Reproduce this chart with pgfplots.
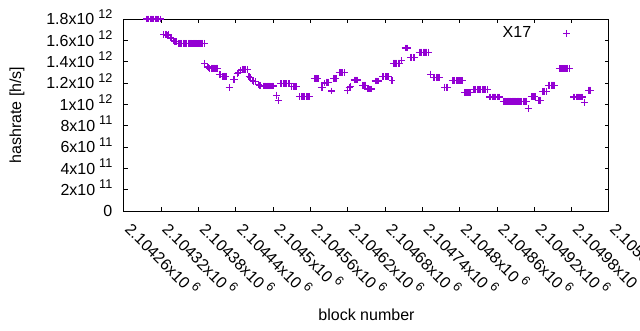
\documentclass[border=0pt]{standalone}
\usepackage{pgfplots}
\pgfplotsset{compat=1.18}
\usepackage{pgfplotstable}
\usepackage{fontspec}
\setmainfont{Liberation Sans}
\definecolor{gpviolet}{RGB}{148,0,211}
\newcommand{\sci}[2]{#1x10\hspace{3pt}\raisebox{5pt}{\fontsize{9.5}{10}\selectfont #2}}

\begin{document}
\pgfplotstableread[row sep=\\]{
block hr \\
2104296 1.800e12 \\ 2104298 1.800e12 \\ 2104300 1.800e12 \\ 2104302 1.800e12 \\ 2104304 1.800e12 \\ 2104306 1.800e12 \\
2104308 1.800e12 \\ 2104310 1.800e12 \\ 2104312 1.800e12 \\ 2104314 1.800e12 \\ 2104316 1.800e12 \\ 2104318 1.800e12 \\
2104324 1.655e12 \\ 2104326 1.653e12 \\ 2104328 1.652e12 \\ 2104330 1.650e12 \\ 2104332 1.652e12 \\
2104335 1.622e12 \\ 2104337 1.618e12 \\ 2104340 1.597e12 \\ 2104342 1.590e12 \\ 2104344 1.585e12 \\
2104347 1.572e12 \\ 2104349 1.572e12 \\ 2104351 1.572e12 \\ 2104353 1.572e12 \\ 2104355 1.572e12 \\ 2104357 1.572e12 \\
2104359 1.572e12 \\ 2104361 1.572e12 \\ 2104363 1.572e12 \\ 2104365 1.572e12 \\ 2104367 1.572e12 \\ 2104369 1.572e12 \\
2104371 1.572e12 \\ 2104373 1.572e12 \\ 2104375 1.572e12 \\ 2104377 1.572e12 \\ 2104379 1.572e12 \\ 2104381 1.572e12 \\
2104383 1.572e12 \\ 2104385 1.572e12 \\ 2104387 1.572e12 \\ 2104389 1.572e12 \\
2104390 1.385e12 \\
2104394 1.350e12 \\ 2104396 1.345e12 \\ 2104398 1.340e12 \\ 2104400 1.340e12 \\ 2104402 1.340e12 \\ 2104404 1.340e12 \\
2104406 1.340e12 \\ 2104408 1.340e12 \\ 2104410 1.340e12 \\ 2104411 1.335e12 \\
2104413 1.283e12 \\ 2104415 1.278e12 \\
2104418 1.262e12 \\ 2104420 1.262e12 \\ 2104422 1.262e12 \\ 2104424 1.262e12 \\
2104429 1.156e12 \\
2104436 1.237e12 \\ 2104438 1.237e12 \\ 2104442 1.290e12 \\ 2104444 1.300e12 \\
2104448 1.320e12 \\ 2104450 1.328e12 \\ 2104452 1.328e12 \\ 2104454 1.328e12 \\ 2104456 1.328e12 \\ 2104458 1.325e12 \\
2104461 1.260e12 \\ 2104463 1.252e12 \\
2104467 1.220e12 \\ 2104469 1.214e12 \\ 2104471 1.210e12 \\
2104476 1.185e12 \\ 2104478 1.180e12 \\ 2104480 1.178e12 \\
2104484 1.172e12 \\ 2104486 1.172e12 \\ 2104488 1.172e12 \\ 2104490 1.172e12 \\ 2104492 1.172e12 \\ 2104494 1.172e12 \\
2104496 1.172e12 \\ 2104498 1.172e12 \\ 2104500 1.172e12 \\
2104506 1.087e12 \\ 2104508 1.040e12 \\
2104512 1.195e12 \\ 2104514 1.195e12 \\ 2104516 1.195e12 \\ 2104518 1.195e12 \\ 2104520 1.195e12 \\ 2104522 1.195e12 \\
2104524 1.195e12 \\ 2104526 1.195e12 \\
2104530 1.170e12 \\ 2104532 1.167e12 \\ 2104534 1.167e12 \\ 2104536 1.165e12 \\ 2104538 1.165e12 \\
2104543 1.073e12 \\ 2104545 1.073e12 \\ 2104547 1.073e12 \\ 2104549 1.073e12 \\ 2104551 1.073e12 \\ 2104553 1.073e12 \\
2104555 1.073e12 \\ 2104557 1.073e12 \\ 2104559 1.073e12 \\
2104566 1.242e12 \\ 2104568 1.242e12 \\ 2104570 1.242e12 \\ 2104572 1.242e12 \\
2104577 1.160e12 \\ 2104579 1.155e12 \\
2104583 1.200e12 \\ 2104585 1.209e12 \\ 2104587 1.209e12 \\ 2104589 1.209e12 \\
2104594 1.125e12 \\
2104597 1.240e12 \\ 2104599 1.242e12 \\ 2104601 1.242e12 \\
2104606 1.298e12 \\ 2104608 1.298e12 \\ 2104610 1.298e12 \\ 2104612 1.298e12 \\ 2104614 1.298e12 \\
2104620 1.130e12 \\ 2104622 1.162e12 \\ 2104624 1.165e12 \\
2104630 1.228e12 \\ 2104632 1.228e12 \\ 2104634 1.228e12 \\ 2104636 1.228e12 \\
2104644 1.181e12 \\ 2104646 1.181e12 \\ 2104648 1.181e12 \\
2104652 1.144e12 \\ 2104654 1.144e12 \\ 2104656 1.144e12 \\ 2104658 1.144e12 \\
2104664 1.219e12 \\ 2104666 1.219e12 \\ 2104668 1.219e12 \\ 2104670 1.219e12 \\
2104676 1.261e12 \\ 2104678 1.261e12 \\ 2104680 1.261e12 \\ 2104682 1.261e12 \\ 2104684 1.261e12 \\ 2104686 1.261e12 \\
2104691 1.220e12 \\
2104693 1.387e12 \\ 2104695 1.387e12 \\ 2104697 1.387e12 \\ 2104699 1.387e12 \\ 2104701 1.387e12 \\ 2104703 1.387e12 \\
2104707 1.410e12 \\
2104712 1.528e12 \\ 2104714 1.528e12 \\ 2104716 1.528e12 \\
2104721 1.440e12 \\ 2104723 1.440e12 \\ 2104725 1.440e12 \\ 2104727 1.440e12 \\
2104735 1.490e12 \\ 2104737 1.490e12 \\ 2104739 1.490e12 \\ 2104741 1.490e12 \\ 2104743 1.490e12 \\ 2104745 1.490e12 \\
2104747 1.490e12 \\ 2104749 1.490e12 \\
2104753 1.284e12 \\
2104758 1.252e12 \\ 2104760 1.252e12 \\ 2104762 1.252e12 \\ 2104764 1.252e12 \\ 2104766 1.252e12 \\ 2104768 1.252e12 \\
2104776 1.162e12 \\ 2104778 1.162e12 \\ 2104780 1.162e12 \\
2104788 1.223e12 \\ 2104790 1.223e12 \\ 2104792 1.223e12 \\ 2104794 1.223e12 \\ 2104796 1.223e12 \\ 2104798 1.223e12 \\
2104800 1.223e12 \\ 2104802 1.223e12 \\ 2104804 1.223e12 \\
2104808 1.111e12 \\ 2104810 1.111e12 \\ 2104812 1.111e12 \\ 2104814 1.111e12 \\ 2104816 1.111e12 \\ 2104818 1.111e12 \\
2104822 1.139e12 \\ 2104824 1.139e12 \\ 2104826 1.139e12 \\ 2104828 1.139e12 \\ 2104830 1.139e12 \\ 2104832 1.139e12 \\
2104834 1.139e12 \\ 2104836 1.139e12 \\ 2104838 1.139e12 \\ 2104840 1.139e12 \\ 2104842 1.139e12 \\ 2104844 1.139e12 \\
2104848 1.069e12 \\ 2104850 1.069e12 \\ 2104852 1.069e12 \\ 2104854 1.069e12 \\ 2104856 1.069e12 \\ 2104858 1.069e12 \\
2104860 1.069e12 \\ 2104862 1.069e12 \\ 2104864 1.069e12 \\
2104870 1.031e12 \\ 2104872 1.031e12 \\ 2104874 1.031e12 \\ 2104876 1.031e12 \\ 2104878 1.031e12 \\ 2104880 1.031e12 \\
2104882 1.031e12 \\ 2104884 1.031e12 \\ 2104886 1.031e12 \\ 2104888 1.031e12 \\ 2104890 1.031e12 \\ 2104892 1.031e12 \\
2104894 1.031e12 \\ 2104896 1.027e12 \\ 2104898 1.027e12 \\ 2104900 1.027e12 \\ 2104902 1.027e12 \\ 2104904 1.027e12 \\
2104906 1.027e12 \\ 2104908 1.027e12 \\
2104910 0.963e12 \\
2104915 1.073e12 \\ 2104917 1.073e12 \\ 2104919 1.073e12 \\ 2104921 1.073e12 \\
2104926 1.040e12 \\ 2104928 1.040e12 \\ 2104930 1.040e12 \\
2104933 1.120e12 \\ 2104935 1.120e12 \\ 2104937 1.120e12 \\ 2104939 1.120e12 \\
2104943 1.181e12 \\ 2104945 1.181e12 \\ 2104947 1.181e12 \\ 2104949 1.181e12 \\ 2104951 1.181e12 \\ 2104953 1.181e12 \\
2104960 1.336e12 \\ 2104962 1.336e12 \\ 2104964 1.336e12 \\ 2104966 1.336e12 \\ 2104968 1.336e12 \\ 2104970 1.336e12 \\
2104972 1.336e12 \\ 2104974 1.336e12 \\ 2104976 1.336e12 \\
2104983 1.069e12 \\ 2104985 1.069e12 \\ 2104987 1.069e12 \\ 2104989 1.069e12 \\ 2104991 1.069e12 \\ 2104993 1.069e12 \\
2104995 1.069e12 \\ 2104997 1.069e12 \\
2105001 1.017e12 \\
2105007 1.134e12 \\ 2105009 1.134e12 \\ 2105011 1.134e12 \\
}\datatable
\begin{tikzpicture}
\useasboundingbox (-93pt,-89.25pt) rectangle (387pt,158.25pt);
\begin{axis}[
  at={(0,0)}, anchor=south west,
  scale only axis, width=363.75pt, height=144pt,
  x coord trafo/.code={\edef\pgfmathresult{\the\numexpr#1-2104260\relax}},
  xmin=2104260, xmax=2105040, ymin=0, ymax=1.8e12,
  scaled x ticks=false, scaled y ticks=false,
  clip=false,
  font=\fontsize{12}{14.4}\selectfont,
  /pgf/number format/assume math mode=true,
  axis line style={line width=0.75pt},
  tick style={black, line width=0.75pt},
  major tick length=3pt,
  tick align=inside,
  xtick={2104260,2104320,2104380,2104440,2104500,2104560,2104620,2104680,2104740,2104800,2104860,2104920,2104980,2105040},
  xticklabels={\sci{2.10426}{6},\sci{2.10432}{6},\sci{2.10438}{6},\sci{2.10444}{6},\sci{2.1045}{6},\sci{2.10456}{6},\sci{2.10462}{6},\sci{2.10468}{6},\sci{2.10474}{6},\sci{2.1048}{6},\sci{2.10486}{6},\sci{2.10492}{6},\sci{2.10498}{6},\sci{2.10504}{6}},
  ytick={0,2e11,4e11,6e11,8e11,1e12,1.2e12,1.4e12,1.6e12,1.8e12},
  yticklabels={0,\sci{2}{11},\sci{4}{11},\sci{6}{11},\sci{8}{11},\sci{1}{12},\sci{1.2}{12},\sci{1.4}{12},\sci{1.6}{12},\sci{1.8}{12}},
  yticklabel style={anchor=base east, inner sep=0pt, xshift=-8.5pt, yshift=-4.3pt},
  xticklabel style={anchor=base west, inner sep=0pt, xshift=0pt, yshift=-14.5pt, rotate=-45},
  xlabel={block number},
  xlabel style={at={(axis description cs:0.5,-0.542)}, anchor=center},
  ylabel={hashrate [h/s]},
  ylabel style={at={(axis description cs:-0.2206,0.5)}, anchor=center},
  legend plot pos=right,
  legend cell align=right,
  legend image code/.code={\path (0pt,0pt); \draw[#1] plot coordinates {(24.35pt,0pt)};},
  legend style={draw=none, fill=none, at={(0.929,0.989)}, anchor=north east, font=\fontsize{12}{14.4}\selectfont},
]
\addplot[only marks, mark=+, draw=gpviolet, color=gpviolet, mark options={gpviolet}, mark size=2.6pt, line width=0.8pt] table[x=block, y=hr] {\datatable};
\addlegendentry{X17}
\end{axis}
\end{tikzpicture}
\end{document}
